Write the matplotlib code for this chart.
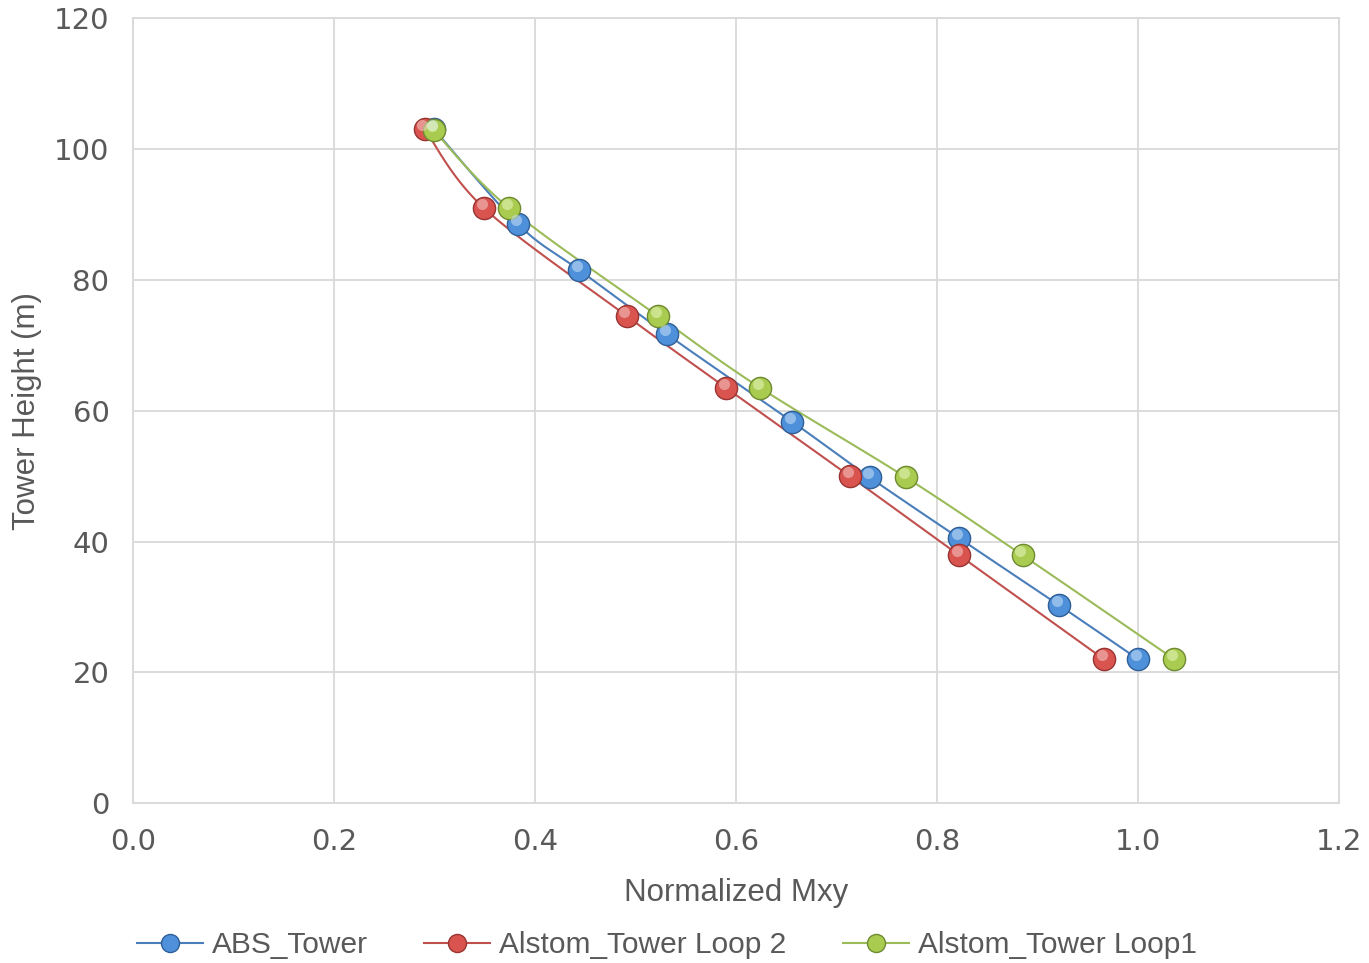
import numpy as np
import matplotlib.pyplot as plt
import matplotlib.transforms as mtrans

# data
abs_x = [0.299, 0.383, 0.444, 0.531, 0.656, 0.733, 0.822, 0.921, 1.000]
abs_y = [103.1, 88.5, 81.5, 71.7, 58.3, 49.8, 40.5, 30.3, 22.0]
loop2_x = [0.290, 0.349, 0.491, 0.590, 0.713, 0.822, 0.966]
loop2_y = [103.1, 91.0, 74.5, 63.5, 50.0, 37.9, 22.0]
loop1_x = [0.299, 0.374, 0.522, 0.624, 0.769, 0.885, 1.036]
loop1_y = [102.9, 91.0, 74.5, 63.5, 49.8, 37.9, 22.0]
labels = ['ABS_Tower', 'Alstom_Tower Loop 2', 'Alstom_Tower Loop1']

txt_font = 'Liberation Sans'


def smooth(x, y, n=20, t=0.5):
    # cardinal spline through the points, like Excel's smoothed line
    x = np.asarray(x, float)
    y = np.asarray(y, float)
    px = np.concatenate([[x[0]], x, [x[-1]]])
    py = np.concatenate([[y[0]], y, [y[-1]]])
    sx, sy = [], []
    s = np.linspace(0, 1, n)
    h1 = 2 * s**3 - 3 * s**2 + 1
    h2 = -2 * s**3 + 3 * s**2
    h3 = s**3 - 2 * s**2 + s
    h4 = s**3 - s**2
    for i in range(1, len(px) - 2):
        m1x = t * (px[i + 1] - px[i - 1])
        m1y = t * (py[i + 1] - py[i - 1])
        m2x = t * (px[i + 2] - px[i])
        m2y = t * (py[i + 2] - py[i])
        sx.extend(h1 * px[i] + h2 * px[i + 1] + h3 * m1x + h4 * m2x)
        sy.extend(h1 * py[i] + h2 * py[i + 1] + h3 * m1y + h4 * m2y)
    return sx, sy


fig = plt.figure(figsize=(13.69, 9.63), dpi=100)
ax = fig.add_axes([0.0972, 0.166, 0.881, 0.815])

series = [
    (abs_x, abs_y, '#4A7EBB', '#4F90DA', '#2F5F96', '#C9E2F8'),
    (loop2_x, loop2_y, '#C0504D', '#D9534F', '#983532', '#F6CCCA'),
    (loop1_x, loop1_y, '#9BBB59', '#A9CB4F', '#6F8B32', '#EAF7C2'),
]
hl_shift = ax.transData + mtrans.ScaledTranslation(-1.5 / 72, 3 / 72, fig.dpi_scale_trans)

handles = []
for (x, y, lc, fc, ec, hc), lab in zip(series, labels):
    sx, sy = smooth(x, y)
    ax.plot(sx, sy, color=lc, lw=1.5, zorder=3)
    ax.plot(x, y, 'o', ms=16, mfc=fc, mec=ec, mew=1.0, zorder=4)
    ax.plot(x, y, 'o', ms=8, mfc=hc, mec='none', alpha=0.55, zorder=5, transform=hl_shift)
    h, = ax.plot([], [], '-o', color=lc, lw=1.5, ms=13, mfc=fc, mec=ec, label=lab)
    handles.append(h)

ax.set_xlim(0, 1.2)
ax.set_ylim(0, 120)
ax.set_xticks(np.arange(0, 1.21, 0.2))
ax.set_yticks(np.arange(0, 121, 20))
ax.set_xticklabels(['%.1f' % v for v in np.arange(0, 1.21, 0.2)])
ax.grid(True, color='#D9D9D9', lw=1.3)
ax.set_axisbelow(True)
for sp in ax.spines.values():
    sp.set_color('#D9D9D9')
    sp.set_linewidth(1.3)
ax.tick_params(length=0, labelsize=21, colors='#595959')
ax.tick_params(axis='x', pad=18)
ax.tick_params(axis='y', pad=17)

ax.set_xlabel('Normalized Mxy', family=txt_font, fontsize=22.5, color='#595959', labelpad=16)
ax.set_ylabel('Tower Height (m)', family=txt_font, fontsize=22.5, color='#595959', va='center')
ax.yaxis.set_label_coords(-0.088, 0.5)

fig.legend(handles=handles, loc='lower center', bbox_to_anchor=(0.487, -0.024), ncol=3,
           frameon=False, prop={'family': txt_font, 'size': 21.5}, labelcolor='#595959',
           handlelength=2.2, handletextpad=0.3, columnspacing=1.9)

fig.savefig('out.png', dpi=100)
